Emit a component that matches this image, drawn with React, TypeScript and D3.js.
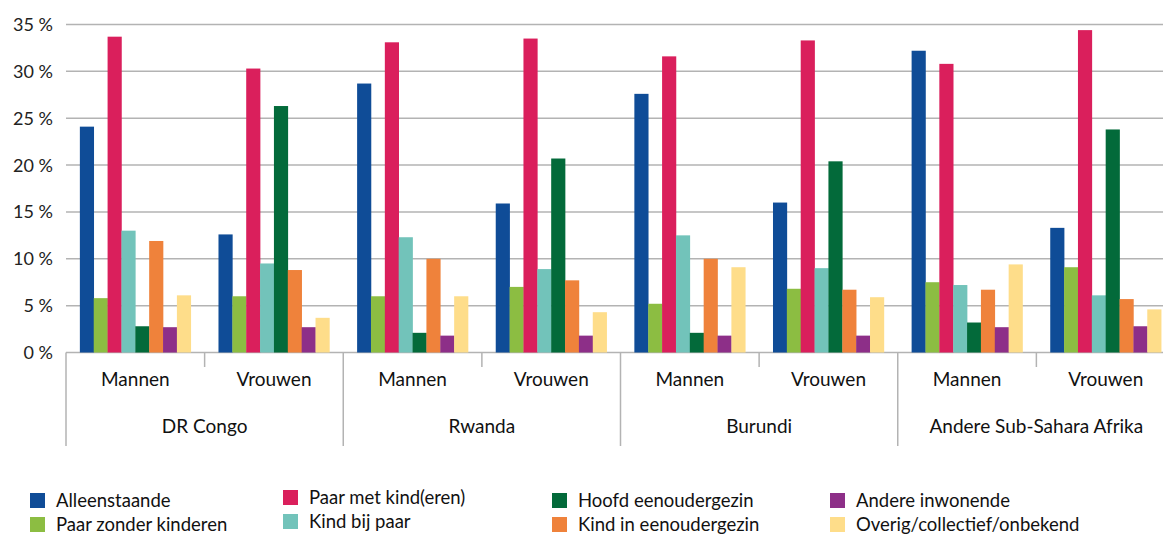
import * as d3 from 'd3'
import React, { useEffect, useRef } from 'react'

const regions = ['DR Congo', 'Rwanda', 'Burundi', 'Andere Sub-Sahara Afrika']
const sexes = ['Mannen', 'Vrouwen']

const seriesNames = [
  'Alleenstaande',
  'Paar zonder kinderen',
  'Paar met kind(eren)',
  'Kind bij paar',
  'Hoofd eenoudergezin',
  'Kind in eenoudergezin',
  'Andere inwonende',
  'Overig/collectief/onbekend',
]

const seriesColors = ['#0f4c97', '#8cbd42', '#da1f5c', '#72c3ba', '#036a3a', '#ef823b', '#8d2f88', '#fedd8a']

// one row per region x sex (Mannen, Vrouwen), values in series order
const drCongo = [
  [24.1, 5.8, 33.7, 13.0, 2.8, 11.9, 2.7, 6.1],
  [12.6, 6.0, 30.3, 9.5, 26.3, 8.8, 2.7, 3.7],
]
const rwanda = [
  [28.7, 6.0, 33.1, 12.3, 2.1, 10.0, 1.8, 6.0],
  [15.9, 7.0, 33.5, 8.9, 20.7, 7.7, 1.8, 4.3],
]
const burundi = [
  [27.6, 5.2, 31.6, 12.5, 2.1, 10.0, 1.8, 9.1],
  [16.0, 6.8, 33.3, 9.0, 20.4, 6.7, 1.8, 5.9],
]
const andere = [
  [32.2, 7.5, 30.8, 7.2, 3.2, 6.7, 2.7, 9.4],
  [13.3, 9.1, 34.4, 6.1, 23.8, 5.7, 2.8, 4.6],
]

const yTicks = [0, 5, 10, 15, 20, 25, 30, 35]

const W = 1163
const H = 536
const font = 'Lato, "Noto Sans", sans-serif'

export default function App() {
  const svgRef = useRef<SVGSVGElement | null>(null)

  useEffect(() => {
    const svg = d3.select(svgRef.current)
    svg.selectAll('*').remove()

    const table = [drCongo, rwanda, burundi, andere]
    const groups = regions.flatMap((r, ri) =>
      sexes.map((s, si) => ({ key: `${r}|${s}`, region: r, sex: s, values: table[ri][si] }))
    )

    const x0 = d3
      .scaleBand()
      .domain(groups.map((g) => g.key))
      .range([66, 1175])
      .paddingInner(0.2)
      .paddingOuter(0.1)
    const step = x0.step()
    const left = 66
    const x1 = d3.scaleBand().domain(seriesNames).range([0, x0.bandwidth()])
    const y = d3.scaleLinear().domain([0, 35]).range([352.5, 24.5])

    // gridlines
    svg
      .append('g')
      .selectAll('line')
      .data(yTicks)
      .enter()
      .append('line')
      .attr('x1', left)
      .attr('x2', W)
      .attr('y1', (d) => y(d))
      .attr('y2', (d) => y(d))
      .style('stroke', '#b3b3b3')
      .style('stroke-width', 1.5)

    svg
      .append('g')
      .selectAll('text')
      .data(yTicks)
      .enter()
      .append('text')
      .attr('x', 53)
      .attr('y', (d) => y(d))
      .attr('dy', '0.36em')
      .attr('text-anchor', 'end')
      .style('font-family', font)
      .style('font-size', '18px')
      .style('fill', '#222')
      .text((d) => `${d} %`)

    // bars
    const gs = svg
      .append('g')
      .selectAll('g')
      .data(groups)
      .enter()
      .append('g')
      .attr('transform', (d) => `translate(${x0(d.key)},0)`)

    gs.selectAll('rect')
      .data((d) => d.values.map((v, i) => ({ name: seriesNames[i], v, c: seriesColors[i] })))
      .enter()
      .append('rect')
      .attr('x', (d) => x1(d.name) ?? 0)
      .attr('width', x1.bandwidth() + 0.3)
      .attr('y', (d) => y(d.v))
      .attr('height', (d) => y(0) - y(d.v))
      .style('fill', (d) => d.c)

    // x axis ticks
    const ax = svg.append('g')
    groups.forEach((g, i) => {
      const bx = left + i * step
      const isRegionStart = i % 2 === 0
      ax.append('line')
        .attr('x1', bx)
        .attr('x2', bx)
        .attr('y1', y(0))
        .attr('y2', isRegionStart ? 446 : 367)
        .style('stroke', '#b3b3b3')
        .style('stroke-width', 1.5)
      ax.append('text')
        .attr('x', bx + step / 2)
        .attr('y', 386)
        .attr('text-anchor', 'middle')
        .style('font-family', font)
        .style('font-size', '19px')
        .style('fill', '#111')
        .text(g.sex)
    })
    regions.forEach((r, i) => {
      ax.append('text')
        .attr('x', left + (i * 2 + 1) * step)
        .attr('y', 433)
        .attr('text-anchor', 'middle')
        .style('font-family', font)
        .style('font-size', '19px')
        .style('fill', '#111')
        .text(r)
    })

    // legend, column-major in series order
    const colX = [30, 283, 552, 830]
    const rowY = [[500, 524], [497, 521], [500, 524], [500, 524]]
    const lg = svg
      .append('g')
      .selectAll('g')
      .data(seriesNames)
      .enter()
      .append('g')
      .attr('transform', (d, i) => `translate(${colX[Math.floor(i / 2)]},${rowY[Math.floor(i / 2)][i % 2]})`)

    lg.append('rect')
      .attr('x', 0)
      .attr('y', -7)
      .attr('width', 15)
      .attr('height', 15)
      .style('fill', (d, i) => seriesColors[i])

    lg.append('text')
      .attr('x', 26)
      .attr('y', 0)
      .attr('dy', '0.36em')
      .style('font-family', font)
      .style('font-size', '18.5px')
      .style('fill', '#111')
      .text((d) => d)
  }, [])

  return (
    <svg
      ref={svgRef}
      width={W}
      height={H}
      style={{ position: 'absolute', left: 0, top: 0, background: '#fff' }}
    ></svg>
  )
}
